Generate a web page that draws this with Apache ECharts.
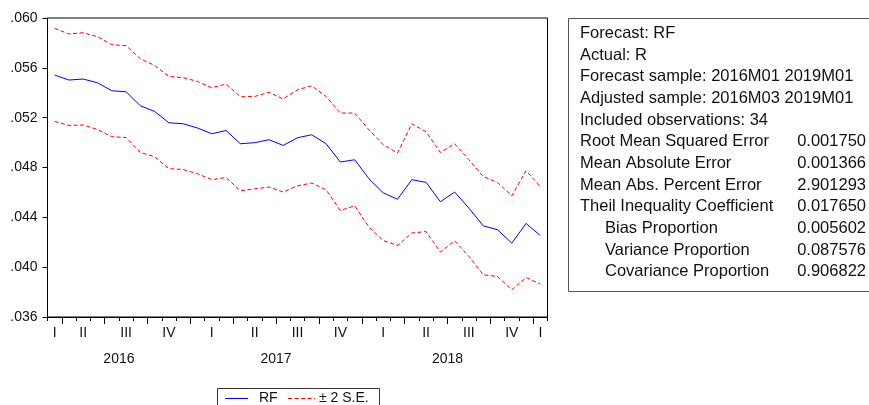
<!DOCTYPE html>
<html>
<head>
<meta charset="utf-8">
<script src="https://cdn.jsdelivr.net/npm/echarts@6/dist/echarts.min.js"></script>
<style>
  html, body { margin: 0; padding: 0; background: #fff; }
  #chart { width: 869px; height: 405px; }
</style>
</head>
<body>
<div id="chart"></div>
<script>
// Monthly forecast periods
const months = [
  '2016M03','2016M04','2016M05','2016M06','2016M07','2016M08','2016M09','2016M10','2016M11','2016M12',
  '2017M01','2017M02','2017M03','2017M04','2017M05','2017M06','2017M07','2017M08','2017M09','2017M10','2017M11','2017M12',
  '2018M01','2018M02','2018M03','2018M04','2018M05','2018M06','2018M07','2018M08','2018M09','2018M10','2018M11','2018M12',
  '2019M01'
];

// Forecast RF
const rf = [
  0.05542, 0.05502, 0.05510, 0.05480, 0.05416, 0.05408, 0.05296, 0.05250, 0.05159, 0.05151,
  0.05117, 0.05071, 0.05097, 0.04991, 0.04999, 0.05023, 0.04977, 0.05039, 0.05063, 0.04991, 0.04844, 0.04862,
  0.04710, 0.04597, 0.04545, 0.04702, 0.04681, 0.04525, 0.04603, 0.04474, 0.04332, 0.04300, 0.04193, 0.04351,
  0.04254
];

// Upper band: RF + 2 S.E.
const upperBand = [
  0.05917, 0.05872, 0.05882, 0.05850, 0.05786, 0.05778, 0.05673, 0.05619, 0.05531, 0.05521,
  0.05491, 0.05440, 0.05470, 0.05368, 0.05370, 0.05403, 0.05350, 0.05424, 0.05456, 0.05370, 0.05237, 0.05237,
  0.05103, 0.04983, 0.04916, 0.05151, 0.05087, 0.04921, 0.04991, 0.04862, 0.04728, 0.04680, 0.04573, 0.04774,
  0.04648
];

// Lower band: RF - 2 S.E.
const lowerBand = [
  0.05170, 0.05138, 0.05141, 0.05105, 0.05047, 0.05041, 0.04921, 0.04886, 0.04790, 0.04784,
  0.04750, 0.04702, 0.04720, 0.04613, 0.04629, 0.04643, 0.04603, 0.04653, 0.04675, 0.04621, 0.04455, 0.04493,
  0.04322, 0.04214, 0.04174, 0.04274, 0.04286, 0.04121, 0.04212, 0.04086, 0.03939, 0.03925, 0.03818, 0.03917,
  0.03864
];

const quarterNames = ['I', 'II', 'III', 'IV'];
const seriesNames = ['RF', '± 2 S.E.'];

// Forecast evaluation statistics
const statHeader = [
  'Forecast: RF',
  'Actual: R',
  'Forecast sample: 2016M01 2019M01',
  'Adjusted sample: 2016M03 2019M01',
  'Included observations: 34'
];
const statNames = [
  'Root Mean Squared Error',
  'Mean Absolute Error',
  'Mean Abs. Percent Error',
  'Theil Inequality Coefficient',
  'Bias Proportion',
  'Variance Proportion',
  'Covariance Proportion'
];
const statValues = ['0.001750', '0.001366', '2.901293', '0.017650', '0.005602', '0.087576', '0.906822'];
const statIndented = [false, false, false, false, true, true, true];

const FONT = '"Liberation Sans", Arial, sans-serif';
const TEXT = '#111';
const BLUE = '#0000ff';
const RED = '#ff0000';
const DASH = [4, 2.5];

const monthOf = v => parseInt(v.slice(5), 10);
const yearOf = v => v.slice(0, 4);

// Quarter boundaries (long ticks) and year centres (second label row)
const quarterBounds = [];
months.forEach((m, i) => { if (i > 0 && monthOf(m) % 3 === 1) quarterBounds.push(i - 0.5); });
const yearSpans = {};
months.forEach((m, i) => {
  const y = yearOf(m);
  if (!yearSpans[y]) yearSpans[y] = [i, i]; else yearSpans[y][1] = i;
});
const yearCenters = [];
Object.keys(yearSpans).forEach(y => {
  const [a, b] = yearSpans[y];
  if (b - a >= 2) yearCenters.push((a + b) / 2);
});
const yearAt = v => {
  let best = '';
  Object.keys(yearSpans).forEach(y => {
    const [a, b] = yearSpans[y];
    if (Math.abs((a + b) / 2 - v) < 0.01) best = y;
  });
  return best;
};

const graphics = [];

// Statistics panel
const lineH = 21.67, firstLine = 33.3, statFont = '16.5px ' + FONT;
graphics.push({
  type: 'rect',
  shape: { x: 568.5, y: 18.5, width: 330, height: 273 },
  style: { fill: '#fff', stroke: '#555', lineWidth: 1 }
});
const allLines = statHeader.map(t => ({ name: t, value: '', indent: false }))
  .concat(statNames.map((t, i) => ({ name: t, value: statValues[i], indent: statIndented[i] })));
allLines.forEach((ln, i) => {
  const cy = firstLine + i * lineH;
  graphics.push({
    type: 'text', x: ln.indent ? 605 : 580, y: cy,
    style: { text: ln.name, font: statFont, fill: TEXT, textVerticalAlign: 'middle', textAlign: 'left' }
  });
  if (ln.value) {
    graphics.push({
      type: 'text', x: 866, y: cy,
      style: { text: ln.value, font: statFont, fill: TEXT, textVerticalAlign: 'middle', textAlign: 'right' }
    });
  }
});

// Legend box below the plot
const legY = 398.5;
graphics.push(
  { type: 'rect', shape: { x: 217.5, y: 388.5, width: 162, height: 30 },
    style: { fill: '#fff', stroke: '#333', lineWidth: 1 } },
  { type: 'line', shape: { x1: 225, y1: legY, x2: 248, y2: legY },
    style: { stroke: BLUE, lineWidth: 1 } },
  { type: 'text', x: 259, y: legY,
    style: { text: seriesNames[0], font: '14px ' + FONT, fill: TEXT, textVerticalAlign: 'middle' } },
  { type: 'line', shape: { x1: 288, y1: legY, x2: 315, y2: legY },
    style: { stroke: RED, lineWidth: 1, lineDash: DASH } },
  { type: 'text', x: 319, y: legY,
    style: { text: seriesNames[1], font: '14px ' + FONT, fill: TEXT, textVerticalAlign: 'middle' } }
);

const chart = echarts.init(document.getElementById('chart'), null, { renderer: 'canvas' });

const bandLine = { color: RED, width: 1, type: DASH };

chart.setOption({
  animation: false,
  backgroundColor: '#fff',
  textStyle: { fontFamily: FONT },
  grid: {
    left: 47.5, right: 321.5, top: 18, bottom: 88,
    show: true, borderColor: '#000', borderWidth: 1, backgroundColor: 'transparent'
  },
  xAxis: [
    {
      type: 'category',
      data: months,
      boundaryGap: true,
      axisLine: { show: true, onZero: false, lineStyle: { color: '#000', width: 1 } },
      axisTick: { show: true, interval: 0, length: 4, lineStyle: { color: '#000' } },
      axisLabel: {
        interval: (i, v) => i === 0 || i === months.length - 1 || monthOf(v) % 3 === 2,
        formatter: v => quarterNames[Math.floor((monthOf(v) - 1) / 3)],
        fontSize: 14, color: TEXT, margin: 9, fontFamily: FONT
      },
      splitLine: { show: false }
    },
    {
      type: 'value',
      min: -0.5, max: months.length - 0.5,
      position: 'bottom',
      axisLine: { show: false, onZero: false },
      axisTick: { show: true, customValues: quarterBounds, length: 7, lineStyle: { color: '#000' } },
      axisLabel: {
        customValues: yearCenters,
        formatter: v => yearAt(v),
        fontSize: 14, color: TEXT, margin: 35, fontFamily: FONT
      },
      splitLine: { show: false }
    }
  ],
  yAxis: {
    type: 'value',
    min: 0.036, max: 0.060, interval: 0.004,
    axisLine: { show: true, onZero: false, lineStyle: { color: '#000', width: 1 } },
    axisTick: { show: true, length: 5, lineStyle: { color: '#000' } },
    axisLabel: {
      formatter: v => v.toFixed(3).replace(/^0/, ''),
      fontSize: 14, color: TEXT, margin: 10, fontFamily: FONT
    },
    splitLine: { show: false }
  },
  series: [
    {
      name: seriesNames[0], type: 'line', data: rf, xAxisIndex: 0,
      symbol: 'none', lineStyle: { color: BLUE, width: 1 }, itemStyle: { color: BLUE }
    },
    {
      name: seriesNames[1], type: 'line', data: upperBand, xAxisIndex: 0,
      symbol: 'none', lineStyle: bandLine, itemStyle: { color: RED }
    },
    {
      name: seriesNames[1], type: 'line', data: lowerBand, xAxisIndex: 0,
      symbol: 'none', lineStyle: bandLine, itemStyle: { color: RED }
    }
  ],
  graphic: graphics
});
</script>
</body>
</html>
